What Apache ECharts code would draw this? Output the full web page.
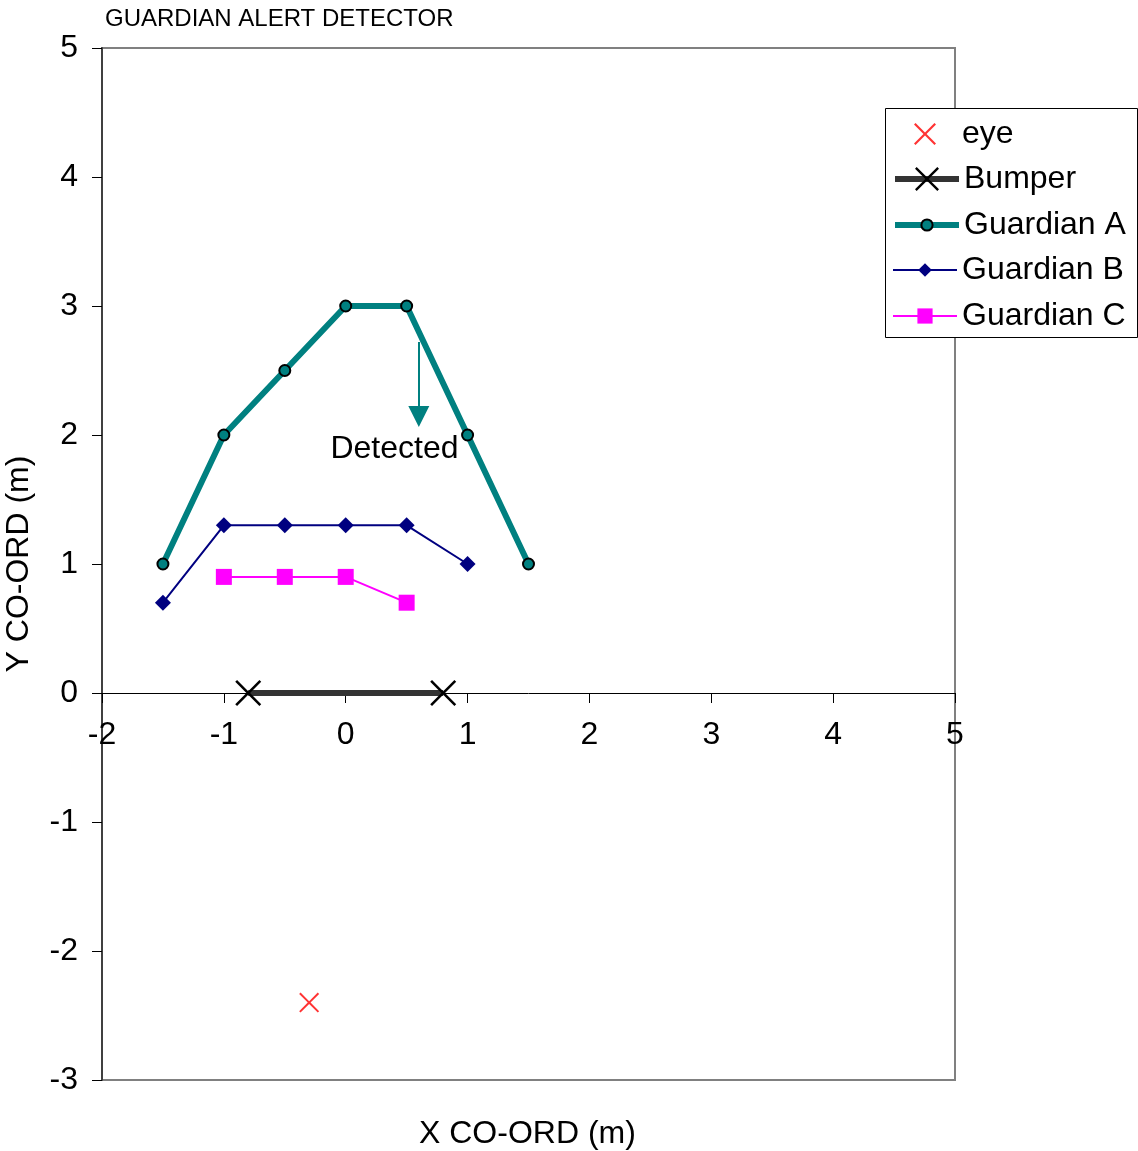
<!DOCTYPE html>
<html><head><meta charset="utf-8">
<script src="https://cdn.jsdelivr.net/npm/echarts@6/dist/echarts.min.js"></script>
<style>html,body{margin:0;padding:0;background:#fff}#c{width:1138px;height:1151px}</style>
</head><body><div id="c"></div>
<script>
const eyeData = [[-0.3, -2.4]];
const bumperData = [[-0.8, 0], [0.8, 0]];
const guardianA = [[-1.5, 1], [-1, 2], [-0.5, 2.5], [0, 3], [0.5, 3], [1, 2], [1.5, 1]];
const guardianB = [[-1.5, 0.7], [-1, 1.3], [-0.5, 1.3], [0, 1.3], [0.5, 1.3], [1, 1]];
const guardianC = [[-1, 0.9], [-0.5, 0.9], [0, 0.9], [0.5, 0.7]];
const arrowCoords = [[0.6, 2.72], [0.6, 2.143]];
const detectedLabel = [[0.4, 1.89]];
const legendNames = ['eye', 'Bumper', 'Guardian A', 'Guardian B', 'Guardian C'];
const xTicks = [-2, -1, 0, 1, 2, 3, 4, 5];
const yTicks = [-3, -2, -1, 0, 1, 2, 3, 4, 5];

const FONT = 'Liberation Sans, Arial, sans-serif';
const FS = 32;
const X_PATH = 'path://M0,0.7 L0.7,0 L5,4.3 L9.3,0 L10,0.7 L5.7,5 L10,9.3 L9.3,10 L5,5.7 L0.7,10 L0,9.3 L4.3,5 Z';

// legend layout (one legend per entry so symbol sizes can differ)
const legendRowCenters = [133, 178, 224, 269, 315];
const legendItemHeights = [22, 30, 14, 17, 19];
const legendLefts = [914, 892, 892, 892, 892];
const legends = legendNames.map((n, i) => ({
  data: [n], left: legendLefts[i], top: legendRowCenters[i] - 15,
  orient: 'vertical', padding: 0, itemWidth: 64, itemHeight: legendItemHeights[i],
  lineStyle: {width: 'inherit'}, itemStyle: {borderWidth: 'inherit'},
  textStyle: {fontSize: FS, color: '#000', fontFamily: FONT},
  selectedMode: false, z: 10
}));

const chart = echarts.init(document.getElementById('c'), null, {renderer: 'canvas'});
chart.setOption({
  animation: false,
  backgroundColor: '#fff',
  textStyle: {fontFamily: FONT},
  title: [
    {text: 'GUARDIAN ALERT DETECTOR', left: 100, top: 2,
     textStyle: {fontSize: 24, fontWeight: 'normal', color: '#000', fontFamily: FONT}},
    {text: 'X CO-ORD (m)', left: 414, top: 1113,
     textStyle: {fontSize: FS, fontWeight: 'normal', color: '#000', fontFamily: FONT}}
  ],
  graphic: [{type: 'rect', left: 885, top: 108, z: 5,
    shape: {width: 252, height: 229},
    style: {fill: '#fff', stroke: '#000', lineWidth: 1}}],
  grid: {left: 102, top: 48, right: 183, bottom: 71, show: true, containLabel: false,
         outerBoundsMode: 'none',
         borderColor: '#808080', borderWidth: 2, backgroundColor: 'transparent'},
  legend: legends,
  xAxis: {
    type: 'value', min: xTicks[0], max: xTicks[xTicks.length - 1], interval: 1,
    offset: -387,
    axisLine: {onZero: false, lineStyle: {color: '#000', width: 1}},
    axisTick: {show: true, inside: false, length: 10, lineStyle: {color: '#000'}},
    axisLabel: {fontSize: FS, color: '#000', margin: 26, fontFamily: FONT},
    splitLine: {show: false}
  },
  yAxis: {
    type: 'value', min: yTicks[0], max: yTicks[yTicks.length - 1], interval: 1,
    name: 'Y CO-ORD (m)', nameLocation: 'middle', nameGap: 67, nameRotate: 90,
    nameTextStyle: {fontSize: FS, color: '#000', fontFamily: FONT},
    axisLine: {onZero: false, lineStyle: {color: '#404040', width: 2}},
    axisTick: {show: true, inside: false, length: 10, lineStyle: {color: '#000'}},
    axisLabel: {fontSize: FS, color: '#000', margin: 24, fontFamily: FONT},
    splitLine: {show: false}
  },
  series: [
    {name: 'eye', type: 'scatter', data: eyeData, symbol: X_PATH, symbolSize: 20,
     itemStyle: {color: '#ff0000'}},
    {name: 'Bumper', type: 'line', data: bumperData, symbol: X_PATH, symbolSize: 26,
     showAllSymbol: true, lineStyle: {color: '#333333', width: 6},
     itemStyle: {color: '#000'}, z: 3},
    {name: 'Guardian A', type: 'line', data: guardianA, symbol: 'circle', symbolSize: 11,
     showAllSymbol: true, lineStyle: {color: '#008080', width: 6},
     itemStyle: {color: '#008080', borderColor: '#000', borderWidth: 2}, z: 4},
    {name: 'Guardian B', type: 'line', data: guardianB, symbol: 'diamond', symbolSize: 16,
     showAllSymbol: true, lineStyle: {color: '#000080', width: 2},
     itemStyle: {color: '#000080'}, z: 5},
    {name: 'Guardian C', type: 'line', data: guardianC, symbol: 'rect', symbolSize: 16,
     showAllSymbol: true, lineStyle: {color: '#ff00ff', width: 2},
     itemStyle: {color: '#ff00ff'}, z: 5},
    {name: 'arrow', type: 'lines', coordinateSystem: 'cartesian2d',
     symbol: ['none', 'triangle'], symbolSize: [20, 21],
     lineStyle: {color: '#008080', width: 2, opacity: 1},
     data: [{coords: arrowCoords}], z: 6},
    {name: 'detected', type: 'scatter', data: detectedLabel, symbolSize: 1,
     itemStyle: {opacity: 0},
     label: {show: true, formatter: 'Detected', fontSize: FS, color: '#000',
             fontFamily: FONT, position: 'inside', opacity: 1}, z: 7}
  ]
});
</script></body></html>
